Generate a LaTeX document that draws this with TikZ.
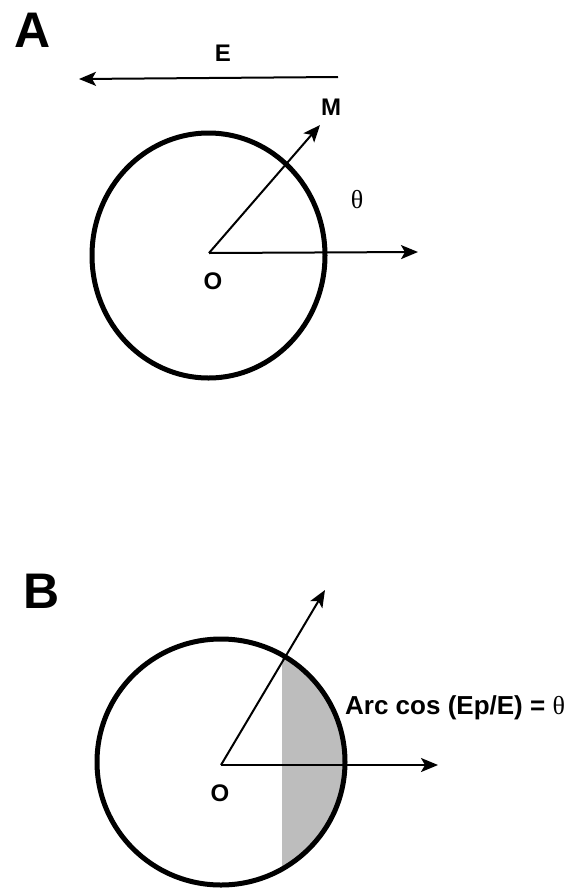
\documentclass[tikz,border=0pt]{standalone}
\usepackage{fontspec}
\setmainfont{Liberation Sans}
\newfontfamily\seriffam{Liberation Serif}
\usetikzlibrary{shapes.geometric,arrows.meta}
\begin{document}
\begin{tikzpicture}[x=1pt,y=-1pt,
  ring/.style={draw,ellipse,line width=5pt,inner sep=0pt},
  vec/.style={line width=2pt,-{Stealth[length=17pt,width=14pt,inset=4pt]}},
  lbl/.style={font=\fontsize{24}{24}\selectfont\bfseries,inner sep=0pt},
  panel/.style={font=\fontsize{50}{50}\selectfont\bfseries,inner sep=0pt},
  ang/.style={font=\seriffam\fontsize{26}{26}\selectfont,inner sep=0pt},
  shade/.style={fill=gray!52}]
\useasboundingbox (0,0) rectangle (578,892);
% Panel A
\node[panel] (pA) at (33,30) {A};
\coordinate (Es) at (338,77);
\coordinate (Ee) at (79,79);
\draw[vec] (Es) -- (Ee);
\node[lbl] (E) at (223,53) {E};
\node[ring,minimum width=233pt,minimum height=245pt] (cA) at (208.5,255.5) {};
\coordinate (OA) at (209,253);
\coordinate (MA) at (320,125);
\coordinate (XA) at (418,252);
\draw[vec] (OA) -- (MA);
\draw[vec] (OA) -- (XA);
\node[lbl] (M) at (331,107) {M};
\node[ang] (thA) at (357,200) {θ};
\node[lbl] (oA) at (213,281) {O};
% Panel B
\node[panel] (pB) at (42,591) {B};
\begin{scope}
  \clip (221,762) ellipse [x radius=124, y radius=123];
  \fill[shade] (282,600) rectangle (360,900);
\end{scope}
\node[ring,minimum width=248pt,minimum height=246pt] (cB) at (221,762) {};
\coordinate (OB) at (221,765);
\coordinate (MB) at (325,590);
\coordinate (XB) at (438,765);
\draw[vec] (OB) -- (MB);
\draw[vec] (OB) -- (XB);
\node[lbl] (oB) at (220,793) {O};
\node[lbl,font=\fontsize{26}{26}\selectfont\bfseries,anchor=base west] (arc) at (345,714) {Arc cos (Ep/E) = {\mdseries\seriffam θ}};
\end{tikzpicture}
\end{document}
